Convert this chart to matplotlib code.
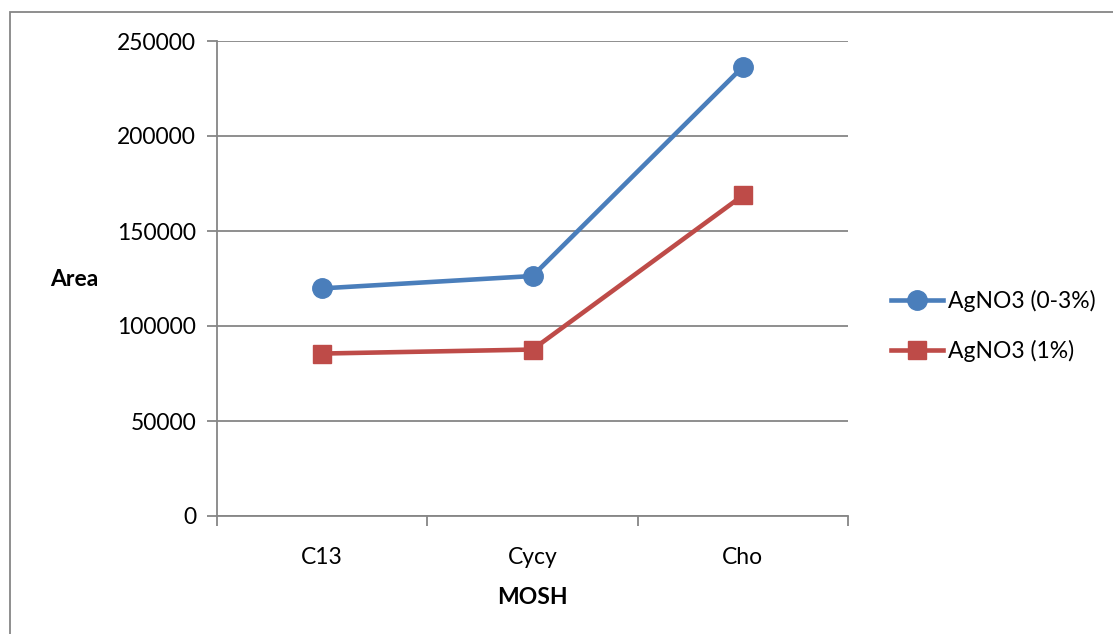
import matplotlib
matplotlib.use('Agg')
import matplotlib.pyplot as plt
from matplotlib.patches import Rectangle

plt.rcParams['font.family'] = ['Lato', 'DejaVu Sans']

categories = ['C13', 'Cycy', 'Cho']
agno3_0_3 = [119800, 126300, 236400]
agno3_1 = [85500, 87600, 168700]
series_names = ['AgNO3 (0-3%)', 'AgNO3 (1%)']
y_ticks = [0, 50000, 100000, 150000, 200000, 250000]

grid_col = '#868686'
fs = 16.5

fig = plt.figure(figsize=(11.13, 6.34), dpi=100)
ax = fig.add_axes([217 / 1113, 118 / 634, 631 / 1113, 475 / 634])

x = range(len(categories))
ax.plot(x, agno3_0_3, color='#4A7EBB', linewidth=3.3, marker='o', markersize=14,
        label=series_names[0], zorder=3)
ax.plot(x, agno3_1, color='#BE4B48', linewidth=3.3, marker='s', markersize=13,
        label=series_names[1], zorder=3)

ax.set_xlim(-0.5, 2.5)
ax.set_ylim(0, 250000)
ax.set_yticks(y_ticks)
ax.set_yticklabels([str(v) for v in y_ticks])
ax.set_xticks(x)
ax.set_xticklabels(categories)
ax.set_xticks([-0.5, 0.5, 1.5, 2.5], minor=True)

ax.grid(axis='y', color=grid_col, linewidth=1.3)
ax.set_axisbelow(True)
for s in ['top', 'right']:
    ax.spines[s].set_visible(False)
for s in ['left', 'bottom']:
    ax.spines[s].set_color(grid_col)
    ax.spines[s].set_linewidth(1.3)

ax.tick_params(axis='y', length=7, width=1.3, color=grid_col, labelsize=fs, pad=8)
ax.tick_params(axis='x', which='major', length=0, labelsize=fs, pad=22)
ax.tick_params(axis='x', which='minor', length=7, width=1.3, color=grid_col)

ax.set_xlabel('MOSH', fontsize=fs, fontweight='bold', labelpad=14)
ax.set_ylabel('Area', fontsize=fs, fontweight='bold', rotation=0, va='center', ha='center')
ax.yaxis.set_label_coords(-0.227, 0.497)

ax.legend(loc='center left', bbox_to_anchor=(1.035, 0.40), frameon=False,
          fontsize=fs, handlelength=2.3, handletextpad=0.2, labelspacing=1.25)

fig.add_artist(Rectangle((10 / 1113, -0.2), 1.2, 1.2 - 12 / 634, transform=fig.transFigure,
                         fill=False, edgecolor=grid_col, linewidth=1.3, clip_on=False))

fig.savefig('out.png', dpi=100)
